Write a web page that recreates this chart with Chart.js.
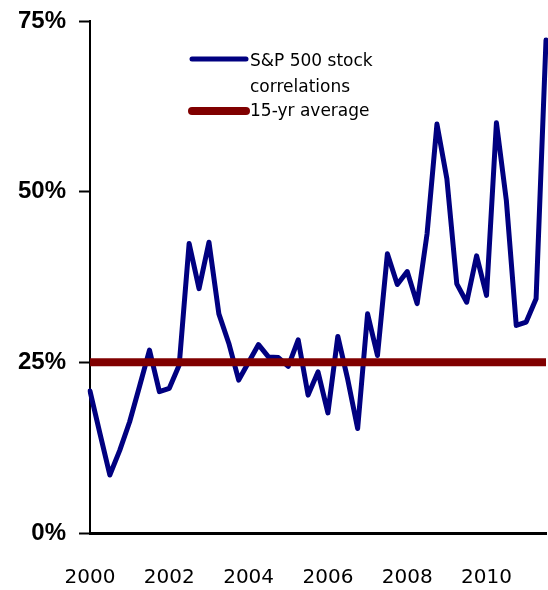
<!DOCTYPE html>
<html>
<head>
<meta charset="utf-8">
<script src="https://cdn.jsdelivr.net/npm/chart.js@4"></script>
<style>
  html, body { margin: 0; padding: 0; background: #fff; }
  #wrap { width: 548px; height: 590px; }
</style>
</head>
<body>
<div id="wrap"><canvas id="chart" width="548" height="590"></canvas></div>
<script>
// quarterly, 2000 Q1 .. 2011 Q3
const quarters = [];
for (let y = 2000; y <= 2011; y++) {
    for (let q = 1; q <= 4; q++) {
        if (y === 2011 && q === 4) break;
        quarters.push(y + ' Q' + q);
    }
}
const tickYears = ['2000', '2002', '2004', '2006', '2008', '2010'];

// S&P 500 stock correlations (%)
const correlations = [
    20.8, 14.6, 8.5, 12.1, 16.3, 21.5, 26.8, 20.7,
    21.2, 24.6, 42.4, 35.8, 42.6, 32.1, 27.8, 22.4,
    25.0, 27.6, 25.8, 25.7, 24.4, 28.3, 20.2, 23.6,
    17.6, 28.8, 22.5, 15.3, 32.1, 26.0, 40.9, 36.4,
    38.3, 33.6, 43.8, 59.9, 51.9, 36.5, 33.8, 40.6,
    34.8, 60.1, 48.7, 30.4, 30.9, 34.3, 72.2
];
const avgLevel = 25;
const average = quarters.map(() => avgLevel);

const legendBox = {
    id: 'legendBox',
    afterDraw(chart) {
        const c = chart.ctx;
        const items = [
            { ds: chart.data.datasets[0], y: 59, textY: [62, 88] },
            { ds: chart.data.datasets[1], y: 111, textY: [112] }
        ];
        c.save();
        c.font = '17px "DejaVu Sans"';
        c.fillStyle = '#000';
        c.textBaseline = 'middle';
        c.textAlign = 'left';
        items.forEach(it => {
            c.strokeStyle = it.ds.borderColor;
            c.lineWidth = it.ds.borderWidth;
            c.lineCap = 'round';
            c.beginPath();
            c.moveTo(192, it.y);
            c.lineTo(246, it.y);
            c.stroke();
            const lines = [].concat(it.ds.label);
            lines.forEach((t, i) => c.fillText(t, 250, it.textY[i]));
        });
        c.restore();
    }
};

const chr = document.getElementById('chart').getContext('2d');
const myChart = new Chart(chr, {
    type: 'line',
    data: {
        labels: quarters,
        datasets: [{
            label: ['S&P 500 stock', 'correlations'],
            data: correlations,
            borderColor: '#000080',
            borderWidth: 5,
            borderJoinStyle: 'round',
            borderCapStyle: 'round',
            pointRadius: 0,
            tension: 0,
            order: 1
        }, {
            label: '15-yr average',
            data: average,
            borderColor: '#800000',
            borderWidth: 8,
            borderCapStyle: 'butt',
            pointRadius: 0,
            tension: 0,
            order: 0
        }]
    },
    options: {
        responsive: false,
        animation: false,
        layout: {
            padding: { left: 18, right: 2, top: 21, bottom: 3 }
        },
        plugins: {
            legend: { display: false },
            tooltip: { enabled: false }
        },
        scales: {
            x: {
                offset: false,
                afterFit: s => {
                    s.height = 54;
                    s.paddingLeft = 0;
                    s.paddingRight = 0;
                },
                grid: { display: true, drawOnChartArea: false, drawTicks: false },
                border: { display: true, color: '#000', width: 3 },
                ticks: {
                    autoSkip: false,
                    maxRotation: 0,
                    minRotation: 0,
                    padding: 33,
                    color: '#000',
                    font: { family: '"DejaVu Sans"', size: 20 },
                    callback: function (v, i) {
                        const lab = quarters[i];
                        const yr = lab.slice(0, 4);
                        return (lab.endsWith('Q1') && tickYears.includes(yr)) ? yr : '';
                    }
                }
            },
            y: {
                min: 0,
                max: 75,
                afterFit: s => {
                    s.width = 72;
                    s.paddingTop = 0;
                    s.paddingBottom = 0;
                },
                grid: { drawOnChartArea: false, drawTicks: true, tickLength: 11, tickWidth: 2, color: '#000' },
                border: { display: true, color: '#000', width: 2 },
                ticks: {
                    stepSize: 25,
                    padding: 13,
                    color: '#000',
                    font: { family: '"Liberation Sans"', size: 24, weight: 'bold' },
                    callback: v => v + '%'
                }
            }
        }
    },
    plugins: [legendBox]
});
</script>
</body>
</html>
